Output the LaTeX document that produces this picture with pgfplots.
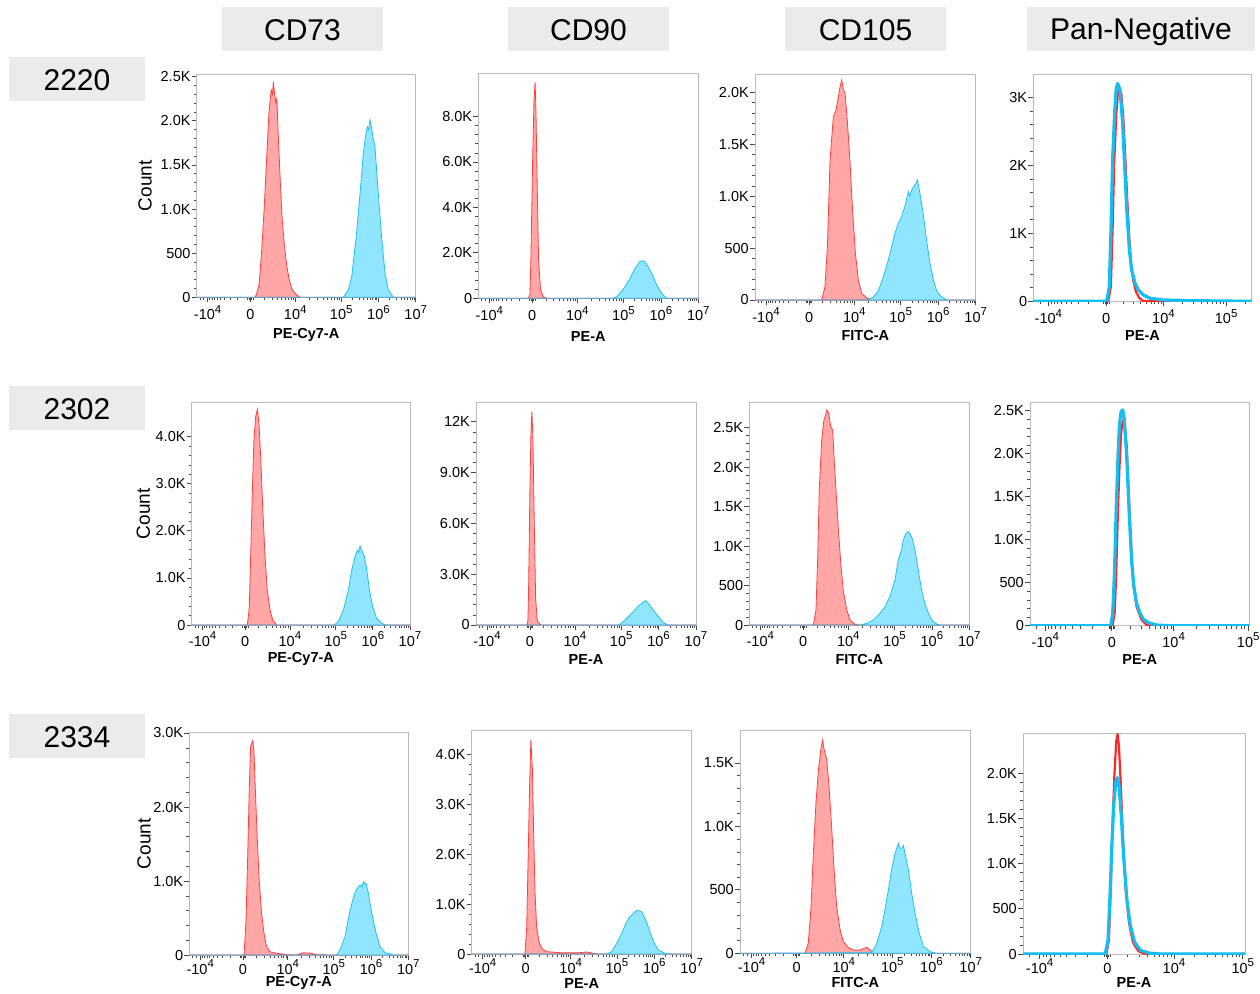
\documentclass[border=0pt]{standalone}
\usepackage{fontspec}
\setmainfont{Liberation Sans}
\usepackage{pgfplots}
\pgfplotsset{compat=1.18}

\definecolor{redline}{RGB}{255,64,64}
\definecolor{redfill}{RGB}{255,166,166}
\definecolor{blueline}{RGB}{34,190,240}
\definecolor{bluefill}{RGB}{145,230,255}
\definecolor{pnred}{RGB}{255,40,40}
\definecolor{pnblue}{RGB}{20,190,240}
\definecolor{framegray}{RGB}{185,185,185}
\definecolor{tickgray}{RGB}{70,70,70}
\definecolor{boxgray}{RGB}{235,235,235}

\newcommand{\sups}[1]{10\raisebox{0.45em}{\fontsize{11.5}{12}\selectfont #1}}

\pgfplotsset{
  fc/.style={
    scale only axis, anchor=north west,
    xmin=0, xmax=100, ymin=0,
    axis line style={draw=framegray, line width=0.9pt},
    tick align=outside, tick pos=left,
    major tick length=5pt, minor tick length=3pt,
    tick style={draw=tickgray, line width=0.8pt},
    minor tick style={line width=0.6pt},
    tick label style={font=\fontsize{14.5}{16}\selectfont},
    yticklabel style={inner sep=1pt},
    scaled y ticks=false,
    minor y tick num=4,
    xlabel style={font=\bfseries\fontsize{14.5}{16}\selectfont, anchor=center},
    ylabel style={font=\fontsize{19}{22}\selectfont, anchor=center},
  },
  % 10^7 style axis (CD73, CD90, CD105)
  xA/.style={
    xtick={5,24.5,45,66,83,100},
    xticklabels={-\sups{4},0,\sups{4},\sups{5},\sups{6},\sups{7}},
    minor xtick={1.5,3,5.9,6.9,8.0,9.3,10.9,12.8,15.2,18.6,23.3,23.9,25.1,25.7,
      30.7,34.3,36.8,38.8,40.5,41.8,43.0,44.1,51.3,55.0,57.6,59.7,61.3,62.7,64.0,65.0,
      71.1,74.1,76.2,77.9,79.2,80.4,81.4,82.2,88.1,91.1,93.2,94.9,96.2,97.4,98.4,99.2},
  },
  % Pan-Negative, first row
  xB/.style={
    xtick={6.9,33.4,59.6,88.3},
    xticklabels={-\sups{4},0,\sups{4},\sups{5}},
    minor xtick={3,8.1,9.5,11.0,12.8,14.9,17.4,20.8,25.4,32.2,32.8,34.0,34.6,
      41.3,45.9,49.2,51.7,53.8,55.5,57.1,58.4,68.2,73.3,76.9,79.7,81.9,83.9,85.5,87.0,96.9},
  },
  % Pan-Negative, second row
  xC/.style={
    xtick={7,37.3,65.5,99.5},
    xticklabels={-\sups{4},0,\sups{4},\sups{5}},
    minor xtick={3,8.4,9.9,11.7,13.7,16.1,19.1,22.8,28.2,36,36.7,37.9,38.6,
      45.8,50.8,54.3,57.0,59.2,61.1,62.8,64.2,75.7,81.7,86.0,89.3,91.9,94.2,96.2,97.9},
  },
  % Pan-Negative, third row
  xD/.style={
    xtick={7.5,38,68,99},
    xticklabels={-\sups{4},0,\sups{4},\sups{5}},
    minor xtick={3,9.0,10.5,12.3,14.3,16.7,19.6,23.4,28.8,36.7,37.4,38.6,39.3,
      47.0,52.3,56.1,59.0,61.3,63.4,65.1,66.6,77.3,82.8,86.7,89.7,92.1,94.2,96.0,97.6},
  },
  r1/.style={xticklabel style={anchor=base, yshift=-17.4pt}},
  r2/.style={xticklabel style={anchor=base, yshift=-16.3pt}},
  r3/.style={xticklabel style={anchor=base, yshift=-14pt}},
  hr/.style={draw=redline, fill=redfill, line width=0.8pt},
  hb/.style={draw=blueline, fill=bluefill, line width=0.8pt},
  pnr/.style={draw=pnred, line width=2.2pt, line join=round},
  pnb/.style={draw=pnblue, line width=3.2pt, line join=round},
}

\begin{document}
\begin{tikzpicture}
\useasboundingbox (0,0) rectangle (1260pt,-993pt);

\begin{scope}[x=1pt,y=-1pt]
  \fill[boxgray] (222,7) rectangle (383,51);
  \fill[boxgray] (508,7) rectangle (669,51);
  \fill[boxgray] (785,7) rectangle (946,51);
  \fill[boxgray] (1027,7) rectangle (1255,51);
  \fill[boxgray] (9,57) rectangle (145,101);
  \fill[boxgray] (9,386) rectangle (145,430);
  \fill[boxgray] (9,714) rectangle (145,758);
  \begin{scope}[every node/.style={anchor=base, font=\fontsize{30}{36}\selectfont, inner sep=0pt}]
    \node at (302.5,40) {CD73};
    \node at (588.5,40) {CD90};
    \node at (865.5,40) {CD105};
    \node at (1141,39) {Pan-Negative};
    \node at (77,90) {2220};
    \node at (77,419) {2302};
    \node at (77,747) {2334};
  \end{scope}
\end{scope}

% ---------------- row 1 : 2220 ----------------
\begin{axis}[fc, xA, r1, at={(196.7pt,-74pt)}, width=219pt, height=223.3pt, ymax=2530,
  ytick={0,500,1000,1500,2000,2500}, yticklabels={0,500,1.0K,1.5K,2.0K,2.5K},
  xlabel={PE-Cy7-A}, xlabel style={at={(axis description cs:0.5,-0.170)}},
  ylabel={Count}, ylabel style={at={(axis description cs:-0.236,0.5)}}]
\addplot[hr] coordinates {(0,0)(26.6,0)(27.4,40)(28.5,150)(29.6,500)(30.8,1000)(31.9,1550)(33.0,2100)(34.0,2350)(34.6,2300)(35.0,2440)(35.6,2300)(36.2,2200)(36.6,2250)(37.3,1800)(38.1,1350)(39.0,900)(40.0,600)(41.0,380)(42.0,230)(43.0,130)(44.0,70)(45.5,30)(47.2,0)(100,0)} \closedcycle;
\addplot[hb] coordinates {(0,0)(66.9,0)(69.2,83)(70.8,234)(73.0,726)(74.6,1180)(76.1,1633)(77.3,1860)(77.9,1935)(78.6,1900)(79.1,2010)(79.7,1950)(80.4,1821)(81.4,1708)(82.9,1180)(84.4,689)(86.0,272)(87.5,83)(89.8,0)(100,0)} \closedcycle;
\end{axis}

\begin{axis}[fc, xA, r1, at={(478.3pt,-73.3pt)}, width=220pt, height=225pt, ymax=9900,
  ytick={0,2000,4000,6000,8000}, yticklabels={0,2.0K,4.0K,6.0K,8.0K},
  xlabel={PE-A}, xlabel style={at={(axis description cs:0.5,-0.169)}}]
\addplot[hr] coordinates {(0,0)(22.8,0)(23.5,200)(23.9,1700)(24.7,6100)(25.3,8700)(25.8,9500)(26.2,8300)(26.8,4800)(27.4,1700)(28.3,370)(29.6,60)(31,0)(100,0)} \closedcycle;
\addplot[hb] coordinates {(0,0)(61.4,0)(62.9,70)(64.4,220)(66.7,513)(69.0,880)(71.2,1320)(73.5,1614)(75.0,1657)(76.5,1510)(78.8,1100)(81.1,587)(83.3,220)(85.6,0)(100,0)} \closedcycle;
\end{axis}

\begin{axis}[fc, xA, r1, at={(755pt,-74pt)}, width=220.7pt, height=226pt, ymax=2177,
  ytick={0,500,1000,1500,2000}, yticklabels={0,500,1.0K,1.5K,2.0K},
  xlabel={FITC-A}, xlabel style={at={(axis description cs:0.5,-0.159)}}]
\addplot[hr] coordinates {(0,0)(30.2,0)(31.7,129)(32.8,514)(34.0,1349)(35.5,1766)(36.7,1831)(37.8,1959)(38.5,2050)(39.3,2119)(40.0,2030)(40.8,1991)(41.8,1734)(43.0,1349)(44.2,867)(45.5,450)(46.8,193)(48.3,65)(50.6,20)(53,0)(100,0)} \closedcycle;
\addplot[hb] coordinates {(0,0)(50.6,0)(53.6,26)(55.9,90)(58.1,219)(60.4,385)(61.9,514)(63.4,642)(64.9,739)(66.4,803)(67.9,899)(69.5,1044)(70.2,1000)(71.0,1060)(72.5,1108)(73.6,1156)(74.7,1028)(76.2,835)(77.7,578)(79.3,353)(80.8,193)(82.3,90)(83.8,42)(86.8,0)(100,0)} \closedcycle;
\end{axis}

\begin{axis}[fc, xB, r1, at={(1033.3pt,-74pt)}, width=218.4pt, height=227.3pt, ymax=3343,
  ytick={0,1000,2000,3000}, yticklabels={0,1K,2K,3K},
  xlabel={PE-A}, xlabel style={at={(axis description cs:0.5,-0.150)}}]
\addplot[pnr] coordinates {(0,0)(34.3,0)(35.5,215)(36.3,1050)(37.0,2000)(38.0,2750)(38.7,3050)(39.4,3150)(40.3,3050)(41.2,2700)(42.0,2200)(43.0,1500)(44.0,900)(44.9,500)(45.8,300)(47.0,140)(48.5,50)(50.4,0)(100,0)};
\addplot[pnb] coordinates {(0,0)(33.6,0)(34.8,215)(35.6,1098)(36.3,2077)(37.3,2812)(37.9,3106)(38.6,3205)(39.7,3106)(40.8,2665)(41.7,2077)(42.8,1342)(44.0,755)(45.0,461)(46.6,265)(48.1,167)(50.4,94)(53.4,45)(59.5,20)(71.7,10)(100,0)};
\end{axis}

% ---------------- row 2 : 2302 ----------------
\begin{axis}[fc, xA, r2, at={(191.7pt,-402.7pt)}, width=218.3pt, height=222.3pt, ymax=4720,
  ytick={0,1000,2000,3000,4000}, yticklabels={0,1.0K,2.0K,3.0K,4.0K},
  xlabel={PE-Cy7-A}, xlabel style={at={(axis description cs:0.5,-0.153)}},
  ylabel={Count}, ylabel style={at={(axis description cs:-0.222,0.5)}}]
\addplot[hr] coordinates {(0,0)(25.5,0)(26.4,389)(27.0,1450)(27.8,2867)(28.5,3928)(29.3,4423)(30.1,4579)(30.8,4282)(31.6,3574)(32.5,2513)(33.6,1450)(34.6,743)(35.9,318)(37.1,106)(38.9,0)(100,0)} \closedcycle;
\addplot[hb] coordinates {(0,0)(65.2,0)(67.2,71)(69.5,318)(71.8,743)(73.3,1168)(74.8,1450)(75.9,1592)(76.5,1540)(77.1,1677)(77.6,1620)(78.2,1557)(79.1,1450)(80.2,1168)(81.4,743)(82.9,389)(84.7,141)(87.0,35)(89.3,0)(100,0)} \closedcycle;
\end{axis}

\begin{axis}[fc, xA, r2, at={(476pt,-402.7pt)}, width=220pt, height=222.3pt, ymax=13128,
  ytick={0,3000,6000,9000,12000}, yticklabels={0,3.0K,6.0K,9.0K,12K},
  xlabel={PE-A}, xlabel style={at={(axis description cs:0.5,-0.157)}}]
\addplot[hr] coordinates {(0,0)(23.3,0)(23.6,300)(23.9,2047)(24.5,7973)(25.0,11515)(25.4,12600)(25.9,10924)(26.5,5906)(27.1,1575)(27.9,217)(29.4,0)(100,0)} \closedcycle;
\addplot[hb] coordinates {(0,0)(64.7,0)(66.2,98)(68.5,394)(71.5,787)(73.8,1122)(75.8,1319)(77.1,1437)(78.3,1280)(80.6,886)(82.9,492)(85.2,138)(87.4,0)(100,0)} \closedcycle;
\end{axis}

\begin{axis}[fc, xA, r2, at={(749.3pt,-402.7pt)}, width=220pt, height=222.3pt, ymax=2814,
  ytick={0,500,1000,1500,2000,2500}, yticklabels={0,500,1.0K,1.5K,2.0K,2.5K},
  xlabel={FITC-A}, xlabel style={at={(axis description cs:0.5,-0.157)}}]
\addplot[hr] coordinates {(0,0)(29.1,0)(30.3,190)(31.1,866)(31.8,1709)(32.9,2342)(33.9,2595)(34.6,2650)(35.2,2722)(36.1,2680)(37.0,2511)(37.9,2469)(38.5,2131)(39.4,1709)(40.5,1203)(41.7,739)(42.7,443)(44.3,190)(45.8,63)(48.0,8)(50.3,0)(100,0)} \closedcycle;
\addplot[hb] coordinates {(0,0)(50.3,0)(53.4,21)(56.4,63)(59.4,148)(61.7,232)(63.9,359)(66.2,570)(67.7,823)(69.2,950)(70.0,1076)(71.2,1160)(72.3,1181)(73.8,1118)(75.3,950)(76.8,696)(78.3,443)(79.8,274)(81.4,148)(82.9,63)(85.2,13)(87,0)(100,0)} \closedcycle;
\end{axis}

\begin{axis}[fc, xC, r2, at={(1030pt,-402.7pt)}, width=219.3pt, height=223pt, ymax=2593,
  ytick={0,500,1000,1500,2000,2500}, yticklabels={0,500,1.0K,1.5K,2.0K,2.5K},
  xlabel={PE-A}, xlabel style={at={(axis description cs:0.5,-0.150)}}]
\addplot[pnr] coordinates {(0,0)(37.6,0)(38.6,150)(39.3,600)(40.0,1250)(40.8,1850)(41.6,2250)(42.3,2380)(42.6,2390)(43.2,2330)(44.1,2080)(45.6,1200)(47.1,480)(48.6,220)(50.9,66)(53.2,8)(55,0)(100,0)};
\addplot[pnb] coordinates {(0,0)(36.8,0)(37.7,144)(38.5,609)(39.2,1268)(40.0,1888)(40.7,2315)(41.5,2489)(42.3,2509)(43.0,2393)(44.1,1966)(45.3,1268)(46.4,725)(47.4,453)(48.6,260)(50.2,144)(51.7,74)(54.0,35)(57.8,8)(63.8,0)(100,0)};
\end{axis}

% ---------------- row 3 : 2334 ----------------
\begin{axis}[fc, xA, r3, at={(189.3pt,-732.7pt)}, width=219pt, height=222.3pt, ymax=3004,
  ytick={0,1000,2000,3000}, yticklabels={0,1.0K,2.0K,3.0K},
  xlabel={PE-Cy7-A}, xlabel style={at={(axis description cs:0.5,-0.126)}},
  ylabel={Count}, ylabel style={at={(axis description cs:-0.207,0.5)}}]
\addplot[hr] coordinates {(0,0)(25.0,0)(25.9,473)(26.7,1374)(27.4,2274)(28.0,2814)(28.9,2895)(29.5,2769)(30.1,2274)(31.0,1599)(31.9,1013)(33.0,563)(34.1,293)(35.3,113)(36.8,45)(39.9,23)(44.4,5)(49,0)(52.1,30)(55.1,25)(58.1,5)(64.2,0)(100,0)} \closedcycle;
\addplot[hb] coordinates {(0,0)(67.3,0)(68.8,68)(71.1,248)(73.1,563)(74.6,743)(76.1,878)(78.0,946)(78.8,920)(79.5,990)(80.1,960)(80.7,968)(81.8,833)(83.3,563)(85.3,293)(87.1,113)(89.4,32)(93.2,0)(100,0)} \closedcycle;
\end{axis}

\begin{axis}[fc, xA, r3, at={(471.7pt,-730.7pt)}, width=220pt, height=223.3pt, ymax=4484,
  ytick={0,1000,2000,3000,4000}, yticklabels={0,1.0K,2.0K,3.0K,4.0K},
  xlabel={PE-A}, xlabel style={at={(axis description cs:0.5,-0.130)}}]
\addplot[hr] coordinates {(0,0)(24.2,0)(25.0,548)(25.7,2021)(26.3,3360)(26.9,4297)(27.6,3695)(28.2,2356)(28.8,1218)(29.5,548)(30.6,248)(31.8,114)(34.1,47)(40.1,27)(49.2,27)(52.3,40)(55.3,13)(58,0)(100,0)} \closedcycle;
\addplot[hb] coordinates {(0,0)(61.4,0)(63.6,47)(65.9,214)(68.2,415)(70.1,616)(71.9,750)(74.2,850)(75.0,880)(75.7,870)(76.5,860)(77.3,850)(78.8,716)(80.8,482)(82.6,248)(84.8,80)(87.9,13)(90,0)(100,0)} \closedcycle;
\end{axis}

\begin{axis}[fc, xA, r3, at={(740pt,-730.7pt)}, width=230.7pt, height=222.6pt, ymax=1755,
  ytick={0,500,1000,1500}, yticklabels={0,500,1.0K,1.5K},
  xlabel={FITC-A}, xlabel style={at={(axis description cs:0.5,-0.130)}}]
\addplot[hr] coordinates {(0,0)(28.2,0)(29.6,79)(30.8,368)(31.8,789)(32.9,1183)(34.0,1446)(35.0,1604)(35.8,1682)(36.3,1620)(36.9,1577)(37.6,1524)(38.6,1314)(39.7,999)(40.8,657)(41.9,368)(43.4,184)(44.8,92)(47.0,45)(49.1,26)(52.0,26)(54.9,47)(56.4,26)(58.5,0)(100,0)} \closedcycle;
\addplot[hb] coordinates {(0,0)(57.1,5)(59.3,79)(61.4,210)(62.8,342)(64.3,499)(65.7,657)(67.2,789)(68.6,867)(69.3,830)(70.1,828)(70.8,850)(71.5,789)(73.0,657)(74.4,473)(75.9,315)(77.7,158)(79.5,53)(82.4,13)(85.3,0)(100,0)} \closedcycle;
\end{axis}

\begin{axis}[fc, xD, r3, at={(1023pt,-733pt)}, width=222pt, height=221pt, ymax=2442,
  ytick={0,500,1000,1500,2000}, yticklabels={0,500,1.0K,1.5K,2.0K},
  xlabel={PE-A}, xlabel style={at={(axis description cs:0.5,-0.130)}}]
\addplot[pnr] coordinates {(0,0)(37.5,0)(38.7,150)(39.5,700)(40.3,1400)(41.2,2000)(42.0,2350)(42.6,2430)(43.2,2300)(44.0,1900)(45.0,1300)(46.3,700)(47.7,350)(49.5,130)(52,30)(55,0)(100,0)};
\addplot[pnb] coordinates {(0,0)(37,0)(38.3,150)(39.2,650)(40.0,1200)(40.9,1650)(41.8,1900)(42.5,1950)(43.2,1870)(44.2,1550)(45.4,1050)(46.8,600)(48.3,320)(50.3,130)(53,40)(57,10)(62,0)(100,0)};
\end{axis}

\end{tikzpicture}
\end{document}
